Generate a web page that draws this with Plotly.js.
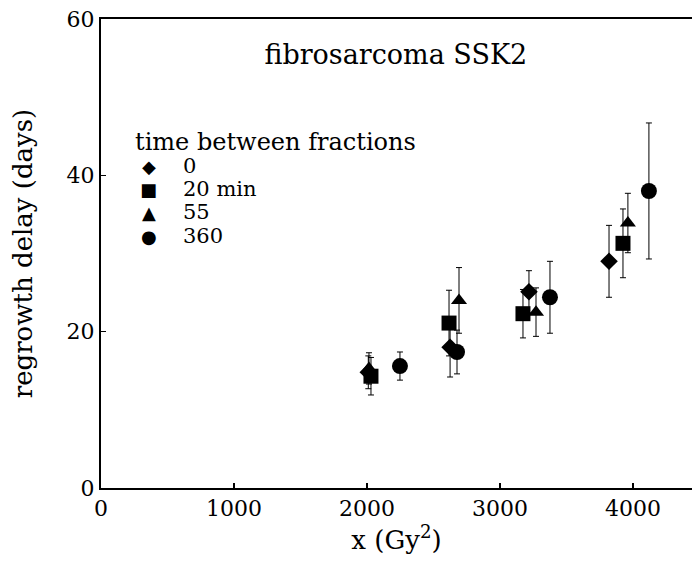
<!DOCTYPE html>
<html>
<head>
<meta charset="utf-8">
<script src="https://cdn.plot.ly/plotly-3.0.1.min.js"></script>
<style>html,body{margin:0;padding:0;background:#fff;}#chart{width:692px;height:561px;}</style>
</head>
<body>
<div id="chart"></div>
<script>
// Series: time between fractions
const seriesNames = ["0", "20 min", "55", "360"];
const seriesSymbols = ["diamond", "square", "triangle-up", "circle"];
const legendGlyphs = ["\u25C6", "\u25A0", "\u25B2", "\u25CF"];

// x (Gy^2)
const x0 = [2010, 2625, 3218, 3820];
const x20 = [2030, 2617, 3173, 3925];
const x55 = [2015, 2692, 3271, 3962];
const x360 = [2248, 2677, 3376, 4120];

// regrowth delay (days)
const y0 = [14.8, 18.0, 25.1, 29.0];
const y20 = [14.3, 21.1, 22.3, 31.3];
const y55 = [15.3, 24.0, 22.5, 33.9];
const y360 = [15.6, 17.4, 24.4, 38.0];

// error bars (days)
const e0 = [2.1, 3.8, 2.7, 4.6];
const e20 = [2.4, 4.2, 3.1, 4.4];
const e55 = [2.0, 4.2, 3.1, 3.8];
const e360 = [1.8, 2.8, 4.6, 8.7];

const xTicks = [0, 1000, 2000, 3000, 4000];
const yTicks = [0, 20, 40, 60];

const xs = [x0, x20, x55, x360];
const ys = [y0, y20, y55, y360];
const es = [e0, e20, e55, e360];
const sizes = [13.5, 15, 14, 16];

const traces = seriesNames.map((n, i) => ({
  type: "scatter",
  mode: "markers",
  name: n,
  x: xs[i],
  y: ys[i],
  showlegend: false,
  marker: {symbol: seriesSymbols[i], size: sizes[i], color: "#000", line: {width: 0}},
  error_y: {type: "data", array: es[i], visible: true, color: "#000", thickness: 1, width: 3}
}));

const serif = "DejaVu Serif, serif";
const annotations = [{
  xref: "paper", yref: "paper", x: 0.054, y: 0.738, xanchor: "left", yanchor: "middle",
  text: "time between fractions", showarrow: false, font: {family: serif, size: 24, color: "#000"}
}];
const rowY = [0.686, 0.637, 0.588, 0.537];
seriesNames.forEach((n, i) => {
  annotations.push({xref: "paper", yref: "paper", x: 0.081, y: rowY[i], xanchor: "center", yanchor: "middle",
    text: legendGlyphs[i], showarrow: false, font: {family: "DejaVu Sans", size: 18, color: "#000"}});
  annotations.push({xref: "paper", yref: "paper", x: 0.135, y: rowY[i], xanchor: "left", yanchor: "middle",
    text: n, showarrow: false, font: {family: serif, size: 21, color: "#000"}});
});

const layout = {
  width: 692, height: 561,
  margin: {l: 101, r: 0, t: 19, b: 73},
  paper_bgcolor: "#fff", plot_bgcolor: "#fff",
  font: {family: serif, color: "#000"},
  showlegend: false,
  title: {text: "fibrosarcoma SSK2", font: {family: serif, size: 27, color: "#000"},
          x: 0.572, xanchor: "center", y: 0.902, yanchor: "middle"},
  xaxis: {
    range: [0, 4444], tickvals: xTicks, ticktext: xTicks.map(String),
    ticks: "inside", ticklen: 5, tickwidth: 1.5, tickcolor: "#000",
    showline: true, linewidth: 2, linecolor: "#000", mirror: true,
    showgrid: false, zeroline: false,
    tickfont: {family: serif, size: 22, color: "#000"},
    title: {text: "x (Gy<sup>2</sup>)", font: {family: serif, size: 26, color: "#000"}, standoff: 6}
  },
  yaxis: {
    range: [0, 60], tickvals: yTicks, ticktext: yTicks.map(String),
    ticks: "inside", ticklen: 5, tickwidth: 1.5, tickcolor: "#000",
    showline: true, linewidth: 2, linecolor: "#000", mirror: false,
    showgrid: false, zeroline: false,
    tickfont: {family: serif, size: 22, color: "#000"},
    title: {text: "regrowth delay (days)", font: {family: serif, size: 26, color: "#000"}, standoff: 26}
  },
  annotations: annotations
};

Plotly.newPlot("chart", traces, layout, {staticPlot: true, displayModeBar: false});
</script>
</body>
</html>
